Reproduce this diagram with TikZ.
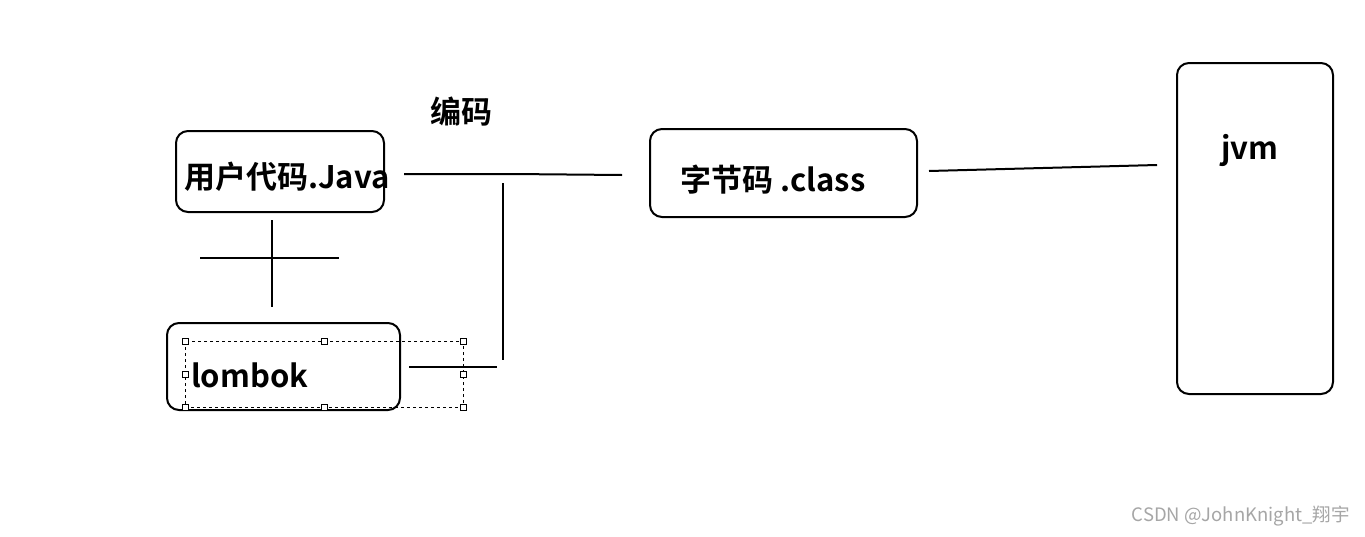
\documentclass[tikz,border=0pt]{standalone}
\usepackage{fontspec}
\setmainfont{Noto Sans CJK SC}
\newfontfamily\cjkb{Noto Sans CJK SC Bold}
\begin{document}
\begin{tikzpicture}[x=1pt,y=-1pt,
  box/.style={draw,line width=2pt,rounded corners=12pt},
  ln/.style={line width=2pt},
  lbl/.style={font=\cjkb\fontsize{31}{34}\selectfont,inner sep=0pt},
  handle/.style={draw,fill=white,line width=0.6pt,minimum size=6pt,inner sep=0pt}]
\useasboundingbox (0,0) rectangle (1365,536);
\fill[white] (0,0) rectangle (1365,536);
\draw[box] (176,131) rectangle (384,212);
\node[lbl] (java) at (287,177) {用户代码.Java};
\node[lbl] (enc) at (461,112) {编码};
\draw[box] (650,129) rectangle (917,217);
\node[lbl] (cls) at (773,180) {字节码 .class};
\draw[box] (1177,63) rectangle (1333,394);
\node[lbl] (jvm) at (1250,150) {jvm};
\draw[box] (167,323) rectangle (400,410);
\node[lbl,anchor=west] (lom) at (191,375) {lombok};
\draw[dashed,line width=0.8pt] (185,341) rectangle (463,407);
\foreach \p [count=\i] in {(185,341),(324,341),(463,341),(185,374),(463,374),(185,407),(324,407),(463,407)}
  \node[handle] (h\i) at \p {};
\coordinate (a1) at (404,174); \coordinate (a2) at (622,175);
\draw[ln] (a1) -- (512,174) -- (a2);
\coordinate (v1) at (503,183); \coordinate (v2) at (503,360);
\draw[ln] (v1) -- (v2);
\coordinate (b1) at (409,367); \coordinate (b2) at (497,367);
\draw[ln] (b1) -- (b2);
\coordinate (c1) at (272,220); \coordinate (c2) at (272,307);
\draw[ln] (c1) -- (c2);
\coordinate (d1) at (200,258); \coordinate (d2) at (339,258);
\draw[ln] (d1) -- (d2);
\coordinate (e1) at (929,171); \coordinate (e2) at (1157,165);
\draw[ln] (e1) -- (e2);
\node[font=\fontsize{18.5}{20}\selectfont,text=gray!70,anchor=east,inner sep=0pt] (wm) at (1350,516) {CSDN @JohnKnight\_翔宇};
\end{tikzpicture}
\end{document}
